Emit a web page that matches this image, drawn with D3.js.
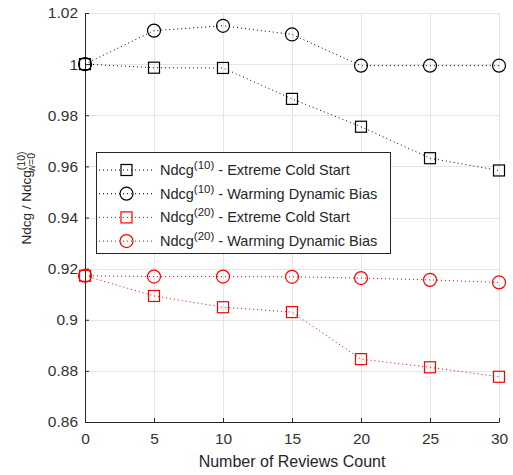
<!DOCTYPE html>
<html>
<head>
<meta charset="utf-8">
<script src="https://cdn.jsdelivr.net/npm/d3@7"></script>
<style>
  body { margin: 0; background: #fff; }
  svg { font-family: 'Liberation Sans', Arial, sans-serif; }
</style>
</head>
<body>
<svg width="513" height="475"></svg>
<script>
// Data
const reviews = [0, 5, 10, 15, 20, 25, 30]
const ndcg10Cold = [1.0, 0.9986, 0.9985, 0.9864, 0.9755, 0.9632, 0.9584]
const ndcg10Warm = [1.0, 1.0131, 1.015, 1.0116, 0.9994, 0.9994, 0.9994]
const ndcg20Cold = [0.9172, 0.9093, 0.9049, 0.903, 0.8846, 0.8814, 0.8777]
const ndcg20Warm = [0.9172, 0.9169, 0.9169, 0.9168, 0.9163, 0.9156, 0.9146]
const xTicks = [0, 5, 10, 15, 20, 25, 30]
const yTicks = [0.86, 0.88, 0.9, 0.92, 0.94, 0.96, 0.98, 1.0, 1.02]

const series = [
  { sup: '(10)', name: ' - Extreme Cold Start', values: ndcg10Cold, color: '#000', marker: 'square' },
  { sup: '(10)', name: ' - Warming Dynamic Bias', values: ndcg10Warm, color: '#000', marker: 'circle' },
  { sup: '(20)', name: ' - Extreme Cold Start', values: ndcg20Cold, color: '#ff0000', marker: 'square' },
  { sup: '(20)', name: ' - Warming Dynamic Bias', values: ndcg20Warm, color: '#ff0000', marker: 'circle' },
]

const svg = d3.select('svg')
const margin = { left: 85, right: 14, top: 13, bottom: 53 }
const width = 513 - margin.left - margin.right
const height = 475 - margin.top - margin.bottom
const axisColor = '#262626'

const x = d3.scaleLinear().domain([0, 30]).range([margin.left, margin.left + width])
const y = d3.scaleLinear().domain([0.86, 1.02]).range([margin.top + height, margin.top])

// grid
const grid = svg.append('g').attr('stroke', '#e5e5e5').attr('stroke-width', 1)
grid.selectAll('.gx').data(xTicks.slice(1)).join('line')
  .attr('x1', (d) => Math.round(x(d)) + 0.5).attr('x2', (d) => Math.round(x(d)) + 0.5)
  .attr('y1', y(0.86)).attr('y2', y(1.02))
grid.selectAll('.gy').data(yTicks.slice(1)).join('line')
  .attr('y1', (d) => Math.round(y(d)) + 0.5).attr('y2', (d) => Math.round(y(d)) + 0.5)
  .attr('x1', x(0)).attr('x2', x(30))

// axes with inward ticks
const xAxis = svg.append('g')
  .attr('transform', `translate(0,${y(0.86)})`)
  .call(d3.axisBottom(x).tickValues(xTicks).tickSizeInner(-4).tickSizeOuter(0).tickPadding(11).tickFormat(d3.format('d')))
const yAxis = svg.append('g')
  .attr('transform', `translate(${x(0)},0)`)
  .call(d3.axisLeft(y).tickValues(yTicks).tickSizeInner(-4).tickSizeOuter(0).tickPadding(7)
    .tickFormat((d) => String(+d.toFixed(2))))
for (const ax of [xAxis, yAxis]) {
  ax.select('.domain').attr('stroke', axisColor).attr('stroke-width', 1)
  ax.selectAll('.tick line').attr('stroke', axisColor)
  ax.selectAll('.tick text').attr('fill', '#333').attr('font-size', 15.5).attr('font-family', null)
}

// lines and markers
const line = d3.line().x((d, i) => x(reviews[i])).y((d) => y(d))

const drawMarker = (g, type, cx, cy, color) => {
  if (type === 'square') {
    g.append('rect').attr('x', cx - 5.5).attr('y', cy - 5.5).attr('width', 11).attr('height', 11)
      .attr('fill', 'none').attr('stroke', color).attr('stroke-width', 1.2)
  } else {
    g.append('circle').attr('cx', cx).attr('cy', cy).attr('r', 6.5)
      .attr('fill', 'none').attr('stroke', color).attr('stroke-width', 1.2)
  }
}

series.forEach((s) => {
  const g = svg.append('g')
  g.append('path').attr('d', line(s.values)).attr('fill', 'none')
    .attr('stroke', s.color).attr('stroke-width', 1).attr('stroke-dasharray', '1,3')
  s.values.forEach((v, i) => drawMarker(g, s.marker, x(reviews[i]), y(v), s.color))
})

// legend
const lg = svg.append('g').attr('transform', 'translate(96,152)')
lg.append('rect').attr('x', 0.5).attr('y', 0.5).attr('width', 294).attr('height', 101)
  .attr('fill', '#fff').attr('stroke', axisColor).attr('stroke-width', 1)
series.forEach((s, i) => {
  const ry = 18 + i * 23.7
  lg.append('line').attr('x1', 3).attr('x2', 57).attr('y1', ry).attr('y2', ry)
    .attr('stroke', s.color).attr('stroke-dasharray', '1,3')
  drawMarker(lg, s.marker, 30.5, ry, s.color)
  const t = lg.append('text').attr('x', 64).attr('y', ry + 5).attr('font-size', 14.5).attr('fill', '#262626')
  t.append('tspan').text('Ndcg')
  t.append('tspan').attr('dy', -6).attr('font-size', 11.5).text(s.sup)
  t.append('tspan').attr('dy', 6).text(s.name)
})

// axis labels
svg.append('text').attr('x', x(15)).attr('y', 467).attr('text-anchor', 'middle')
  .attr('font-size', 16).attr('fill', '#262626').text('Number of Reviews Count')

const yl = svg.append('text').attr('transform', 'translate(31,198) rotate(-90)')
  .attr('text-anchor', 'middle').attr('font-size', 13.5).attr('fill', '#262626')
yl.append('tspan').text('Ndcg / Ndcg')
yl.append('tspan').attr('dy', -6).attr('font-size', 10.5).text('(10)')
yl.append('tspan').attr('dy', 10).attr('dx', -21).attr('font-size', 10.5).text('w=0')
</script>
</body>
</html>
